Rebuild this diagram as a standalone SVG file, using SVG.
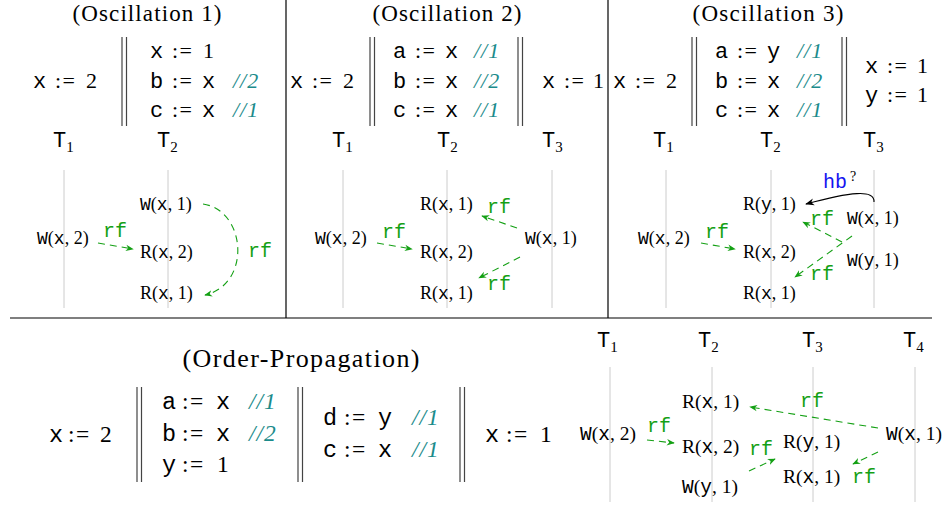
<svg xmlns="http://www.w3.org/2000/svg" width="949" height="506" viewBox="0 0 949 506">
<style>
text{font-family:"Liberation Serif","Times New Roman",serif;fill:#000}
.tt{font-family:"Liberation Mono","DejaVu Sans Mono",monospace}
.ttl{font-size:23px}
.code{font-size:22px}
.bcode{font-size:23.5px}
.as{letter-spacing:1.5px}
.cm{font-family:"Liberation Serif",serif;font-style:italic;fill:#1b8b8b}
.ev{font-size:18px}
.bev{font-size:19.5px}
.rf{font-family:"Liberation Mono","DejaVu Sans Mono",monospace;font-size:20px;fill:#14a014}
.hb{font-family:"Liberation Mono","DejaVu Sans Mono",monospace;font-size:20px;fill:#1515f0}
.th{font-size:22px}
.sub{font-size:15px}
.tl{stroke:#cccccc;stroke-width:1}
.bar{stroke:#444;stroke-width:1.2}
.div{stroke:#000;stroke-width:1.2}
.rfa{fill:none;stroke:#14a014;stroke-width:1.1;stroke-dasharray:7 5;marker-end:url(#ag)}
.hba{fill:none;stroke:#000;stroke-width:1.1;marker-end:url(#ab)}
</style>
<defs>
<marker id="ag" viewBox="0 0 10 10" refX="9" refY="5" markerWidth="8" markerHeight="8" orient="auto" markerUnits="userSpaceOnUse"><path d="M0,1 L10,5 L0,9 L3,5 z" fill="#14a014"/></marker>
<marker id="ab" viewBox="0 0 10 10" refX="9" refY="5" markerWidth="9" markerHeight="9" orient="auto" markerUnits="userSpaceOnUse"><path d="M0,1 L10,5 L0,9 L3,5 z" fill="#000"/></marker>
</defs>

<g id="frame">
<line class="div" x1="286" y1="0" x2="286" y2="318"/>
<line class="div" x1="608" y1="0" x2="608" y2="318"/>
<line class="div" x1="10" y1="318" x2="932" y2="318"/>
</g>

<g id="threadlines">
<line class="tl" x1="64" y1="170" x2="64" y2="308"/>
<line class="tl" x1="168" y1="170" x2="168" y2="308"/>
<line class="tl" x1="343" y1="170" x2="343" y2="308"/>
<line class="tl" x1="447" y1="170" x2="447" y2="308"/>
<line class="tl" x1="552" y1="170" x2="552" y2="308"/>
<line class="tl" x1="666" y1="170" x2="666" y2="308"/>
<line class="tl" x1="771" y1="170" x2="771" y2="308"/>
<line class="tl" x1="874" y1="170" x2="874" y2="308"/>
<line class="tl" x1="610" y1="367" x2="610" y2="502"/>
<line class="tl" x1="712" y1="367" x2="712" y2="502"/>
<line class="tl" x1="813" y1="367" x2="813" y2="502"/>
<line class="tl" x1="915" y1="367" x2="915" y2="502"/>
</g>

<!-- Panel 1 -->
<g id="p1-program">
<text class="ttl" x="147" y="21" text-anchor="middle" textLength="149" lengthAdjust="spacing">(Oscillation 1)</text>
<text class="code" y="88"><tspan class="tt" x="33">x</tspan><tspan class="as" x="55">:=</tspan><tspan x="86">2</tspan></text>
<line class="bar" x1="122" y1="37" x2="122" y2="126"/>
<line class="bar" x1="126.5" y1="37" x2="126.5" y2="126"/>
<text class="code" y="58"><tspan class="tt" x="150">x</tspan><tspan class="as" x="172">:=</tspan><tspan x="203">1</tspan></text>
<text class="code" y="88"><tspan class="tt" x="150">b</tspan><tspan class="as" x="172">:=</tspan><tspan class="tt" x="202">x</tspan><tspan class="cm" x="233" letter-spacing="1">//2</tspan></text>
<text class="code" y="117"><tspan class="tt" x="150">c</tspan><tspan class="as" x="172">:=</tspan><tspan class="tt" x="202">x</tspan><tspan class="cm" x="233" letter-spacing="1">//1</tspan></text>
<text class="th tt" x="53" y="147">T<tspan class="sub" font-family="Liberation Serif" dy="5">1</tspan></text>
<text class="th tt" x="157" y="147">T<tspan class="sub" font-family="Liberation Serif" dy="5">2</tspan></text>
</g>
<g id="p1-events">
<text class="ev" x="37" y="244"><tspan class="tt">W</tspan>(<tspan class="tt">x</tspan>, 2)</text>
<text class="ev" x="140" y="210"><tspan class="tt">W</tspan>(<tspan class="tt">x</tspan>, 1)</text>
<text class="ev" x="140" y="258">R(<tspan class="tt">x</tspan>, 2)</text>
<text class="ev" x="140" y="299">R(<tspan class="tt">x</tspan>, 1)</text>
</g>

<!-- Panel 2 -->
<g id="p2-program">
<text class="ttl" x="447" y="21" text-anchor="middle" textLength="149" lengthAdjust="spacing">(Oscillation 2)</text>
<text class="code" y="88"><tspan class="tt" x="290">x</tspan><tspan class="as" x="312">:=</tspan><tspan x="343">2</tspan></text>
<line class="bar" x1="370" y1="37" x2="370" y2="126"/>
<line class="bar" x1="374.5" y1="37" x2="374.5" y2="126"/>
<text class="code" y="58"><tspan class="tt" x="393">a</tspan><tspan class="as" x="415">:=</tspan><tspan class="tt" x="445">x</tspan><tspan class="cm" x="474" letter-spacing="1">//1</tspan></text>
<text class="code" y="88"><tspan class="tt" x="393">b</tspan><tspan class="as" x="415">:=</tspan><tspan class="tt" x="445">x</tspan><tspan class="cm" x="474" letter-spacing="1">//2</tspan></text>
<text class="code" y="117"><tspan class="tt" x="393">c</tspan><tspan class="as" x="415">:=</tspan><tspan class="tt" x="445">x</tspan><tspan class="cm" x="474" letter-spacing="1">//1</tspan></text>
<line class="bar" x1="518" y1="37" x2="518" y2="126"/>
<line class="bar" x1="522.5" y1="37" x2="522.5" y2="126"/>
<text class="code" y="88"><tspan class="tt" x="542">x</tspan><tspan class="as" x="564">:=</tspan><tspan x="593">1</tspan></text>
<text class="th tt" x="332" y="147">T<tspan class="sub" font-family="Liberation Serif" dy="5">1</tspan></text>
<text class="th tt" x="437" y="147">T<tspan class="sub" font-family="Liberation Serif" dy="5">2</tspan></text>
<text class="th tt" x="542" y="147">T<tspan class="sub" font-family="Liberation Serif" dy="5">3</tspan></text>
</g>
<g id="p2-events">
<text class="ev" x="315" y="244"><tspan class="tt">W</tspan>(<tspan class="tt">x</tspan>, 2)</text>
<text class="ev" x="420" y="210">R(<tspan class="tt">x</tspan>, 1)</text>
<text class="ev" x="420" y="258">R(<tspan class="tt">x</tspan>, 2)</text>
<text class="ev" x="420" y="299">R(<tspan class="tt">x</tspan>, 1)</text>
<text class="ev" x="525" y="244"><tspan class="tt">W</tspan>(<tspan class="tt">x</tspan>, 1)</text>
</g>

<!-- Panel 3 -->
<g id="p3-program">
<text class="ttl" x="768" y="21" text-anchor="middle" textLength="151" lengthAdjust="spacing">(Oscillation 3)</text>
<text class="code" y="88"><tspan class="tt" x="613">x</tspan><tspan class="as" x="635">:=</tspan><tspan x="666">2</tspan></text>
<line class="bar" x1="692" y1="37" x2="692" y2="126"/>
<line class="bar" x1="696.5" y1="37" x2="696.5" y2="126"/>
<text class="code" y="58"><tspan class="tt" x="715">a</tspan><tspan class="as" x="737">:=</tspan><tspan class="tt" x="767">y</tspan><tspan class="cm" x="797" letter-spacing="1">//1</tspan></text>
<text class="code" y="88"><tspan class="tt" x="715">b</tspan><tspan class="as" x="737">:=</tspan><tspan class="tt" x="767">x</tspan><tspan class="cm" x="797" letter-spacing="1">//2</tspan></text>
<text class="code" y="117"><tspan class="tt" x="715">c</tspan><tspan class="as" x="737">:=</tspan><tspan class="tt" x="767">x</tspan><tspan class="cm" x="797" letter-spacing="1">//1</tspan></text>
<line class="bar" x1="842" y1="37" x2="842" y2="126"/>
<line class="bar" x1="846.5" y1="37" x2="846.5" y2="126"/>
<text class="code" y="73"><tspan class="tt" x="865">x</tspan><tspan class="as" x="887">:=</tspan><tspan x="917">1</tspan></text>
<text class="code" y="102"><tspan class="tt" x="865">y</tspan><tspan class="as" x="887">:=</tspan><tspan x="917">1</tspan></text>
<text class="th tt" x="653" y="147">T<tspan class="sub" font-family="Liberation Serif" dy="5">1</tspan></text>
<text class="th tt" x="760" y="147">T<tspan class="sub" font-family="Liberation Serif" dy="5">2</tspan></text>
<text class="th tt" x="863" y="147">T<tspan class="sub" font-family="Liberation Serif" dy="5">3</tspan></text>
</g>
<g id="p3-events">
<text class="ev" x="638" y="244"><tspan class="tt">W</tspan>(<tspan class="tt">x</tspan>, 2)</text>
<text class="ev" x="743" y="210">R(<tspan class="tt">y</tspan>, 1)</text>
<text class="ev" x="743" y="258">R(<tspan class="tt">x</tspan>, 2)</text>
<text class="ev" x="743" y="299">R(<tspan class="tt">x</tspan>, 1)</text>
<text class="ev" x="847" y="224"><tspan class="tt">W</tspan>(<tspan class="tt">x</tspan>, 1)</text>
<text class="ev" x="847" y="266"><tspan class="tt">W</tspan>(<tspan class="tt">y</tspan>, 1)</text>
</g>

<!-- Bottom panel -->
<g id="op-program">
<text x="301" y="367" font-size="26" text-anchor="middle" textLength="237" lengthAdjust="spacing">(Order-Propagation)</text>
<text class="bcode" y="442"><tspan class="tt" x="49">x</tspan><tspan class="as" x="68">:=</tspan><tspan x="100">2</tspan></text>
<line class="bar" x1="137" y1="387" x2="137" y2="482"/>
<line class="bar" x1="141.5" y1="387" x2="141.5" y2="482"/>
<text class="bcode" y="409"><tspan class="tt" x="162">a</tspan><tspan class="as" x="182">:=</tspan><tspan class="tt" x="216">x</tspan><tspan class="cm" x="249" letter-spacing="1">//1</tspan></text>
<text class="bcode" y="441"><tspan class="tt" x="162">b</tspan><tspan class="as" x="182">:=</tspan><tspan class="tt" x="216">x</tspan><tspan class="cm" x="249" letter-spacing="1">//2</tspan></text>
<text class="bcode" y="472"><tspan class="tt" x="162">y</tspan><tspan class="as" x="182">:=</tspan><tspan x="217">1</tspan></text>
<line class="bar" x1="298" y1="387" x2="298" y2="482"/>
<line class="bar" x1="302.5" y1="387" x2="302.5" y2="482"/>
<text class="bcode" y="425"><tspan class="tt" x="323">d</tspan><tspan class="as" x="344">:=</tspan><tspan class="tt" x="378">y</tspan><tspan class="cm" x="412" letter-spacing="1">//1</tspan></text>
<text class="bcode" y="457"><tspan class="tt" x="323">c</tspan><tspan class="as" x="344">:=</tspan><tspan class="tt" x="378">x</tspan><tspan class="cm" x="412" letter-spacing="1">//1</tspan></text>
<line class="bar" x1="460" y1="387" x2="460" y2="482"/>
<line class="bar" x1="464.5" y1="387" x2="464.5" y2="482"/>
<text class="bcode" y="442"><tspan class="tt" x="485">x</tspan><tspan class="as" x="506">:=</tspan><tspan x="540">1</tspan></text>
<text class="th tt" x="597" y="347" font-size="23">T<tspan class="sub" font-family="Liberation Serif" dy="5">1</tspan></text>
<text class="th tt" x="698" y="347" font-size="23">T<tspan class="sub" font-family="Liberation Serif" dy="5">2</tspan></text>
<text class="th tt" x="802" y="347" font-size="23">T<tspan class="sub" font-family="Liberation Serif" dy="5">3</tspan></text>
<text class="th tt" x="903" y="347" font-size="23">T<tspan class="sub" font-family="Liberation Serif" dy="5">4</tspan></text>
</g>
<g id="op-events">
<text class="bev" x="580" y="440"><tspan class="tt">W</tspan>(<tspan class="tt">x</tspan>, 2)</text>
<text class="bev" x="682" y="408">R(<tspan class="tt">x</tspan>, 1)</text>
<text class="bev" x="682" y="453">R(<tspan class="tt">x</tspan>, 2)</text>
<text class="bev" x="682" y="493"><tspan class="tt">W</tspan>(<tspan class="tt">y</tspan>, 1)</text>
<text class="bev" x="783" y="448">R(<tspan class="tt">y</tspan>, 1)</text>
<text class="bev" x="783" y="483">R(<tspan class="tt">x</tspan>, 1)</text>
<text class="bev" x="886" y="440"><tspan class="tt">W</tspan>(<tspan class="tt">x</tspan>, 1)</text>
</g>

<g id="connectors">
<path class="rfa" d="M98,243 L133,249"/>
<path class="rfa" d="M203,204 C246,210 252,284 205,295"/>
<path class="rfa" d="M377,243 L412,249"/>
<path class="rfa" d="M517,228 L482,216"/>
<path class="rfa" d="M520,257 L479,278"/>
<path class="rfa" d="M701,243 L735,249"/>
<path class="rfa" d="M852,236 L795,277"/>
<path class="rfa" d="M842,242 L803,222"/>
<path class="hba" d="M874,202 C875,189 850,192 806,204"/>
<path class="rfa" d="M647,440 L674,443"/>
<path class="rfa" d="M749,471 L775,459"/>
<path class="rfa" d="M878,428 L750,407"/>
<path class="rfa" d="M878,452 L853,464"/>
</g>

<g id="connector-labels">
<text class="rf" x="103" y="237">rf</text>
<text class="rf" x="248" y="257">rf</text>
<text class="rf" x="382" y="238">rf</text>
<text class="rf" x="487" y="213">rf</text>
<text class="rf" x="487" y="290">rf</text>
<text class="rf" x="705" y="238">rf</text>
<text class="rf" x="810" y="225">rf</text>
<text class="rf" x="810" y="280">rf</text>
<text class="hb" x="823" y="188">hb</text>
<text x="850" y="181" font-size="14">?</text>
<text class="rf" x="647" y="432">rf</text>
<text class="rf" x="749" y="455">rf</text>
<text class="rf" x="800" y="407">rf</text>
<text class="rf" x="852" y="483">rf</text>
</g>
</svg>
